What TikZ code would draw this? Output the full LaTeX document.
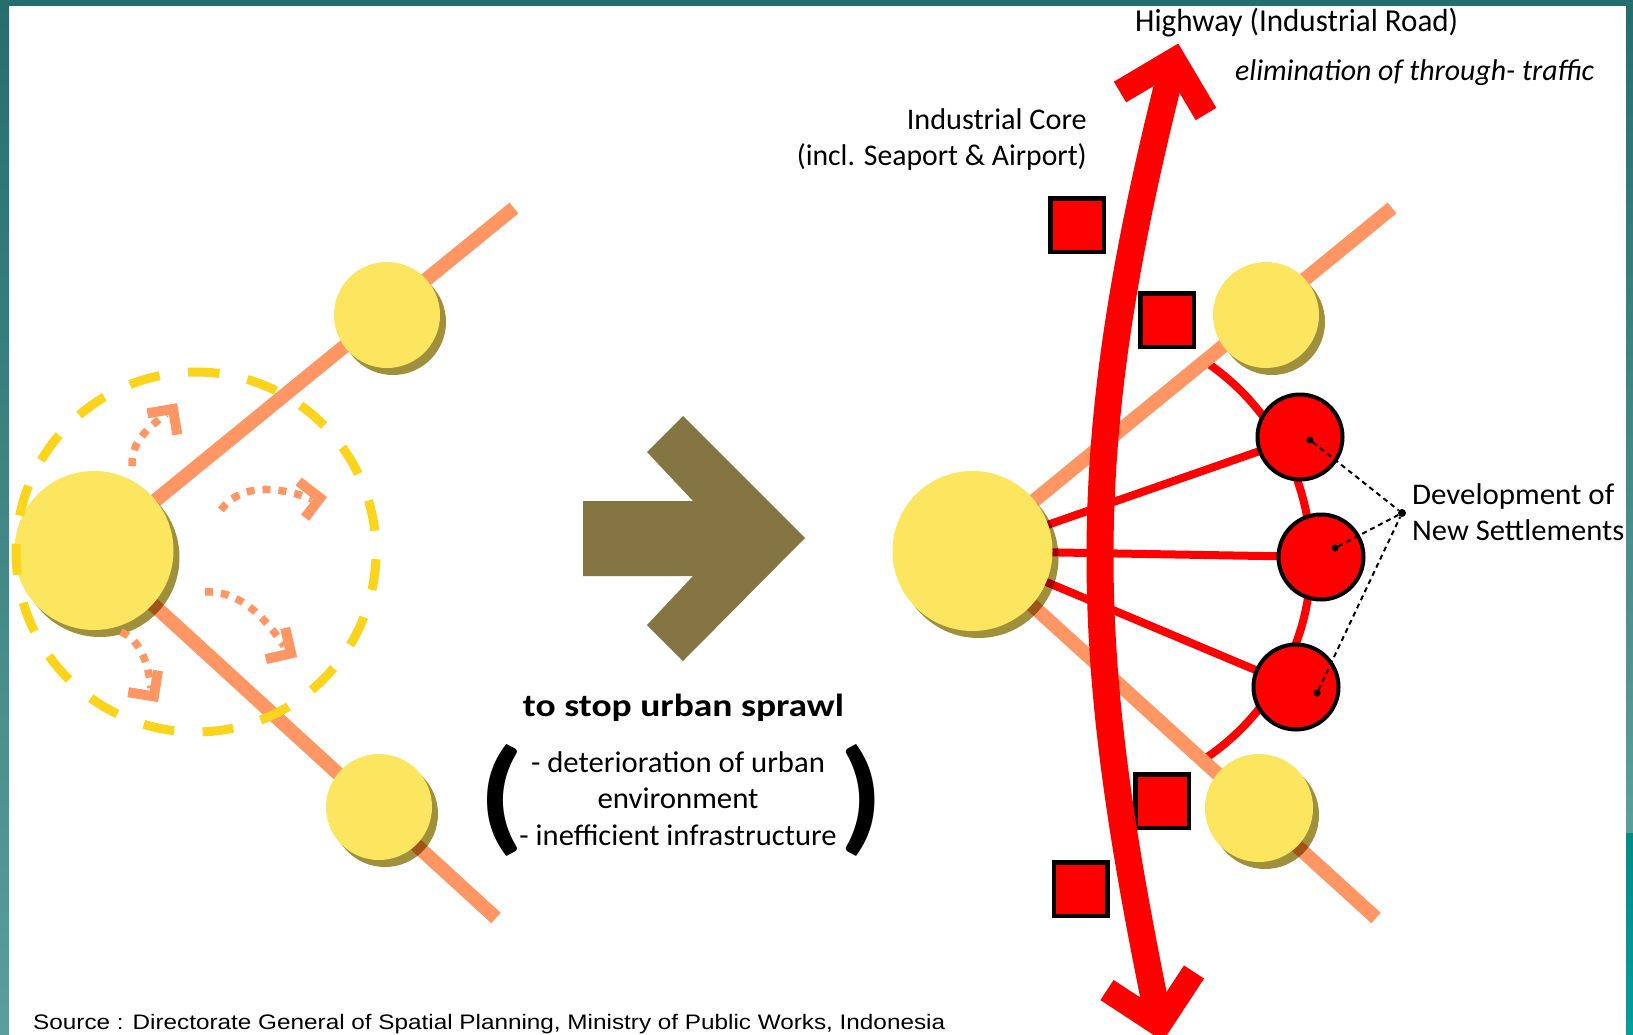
\documentclass[tikz,border=0pt]{standalone}
\usepackage{fontspec}
\setmainfont{Carlito}
\newfontfamily\sourcefont{Liberation Sans}
\usepackage{graphicx}
\usetikzlibrary{calc}

\definecolor{roadorange}{HTML}{FF9664}
\definecolor{cityyellow}{HTML}{FCE55F}
\definecolor{cityshade}{HTML}{A0903C}
\definecolor{ringgold}{HTML}{FCD41C}
\definecolor{turnolive}{HTML}{857543}
\definecolor{tealtop}{HTML}{246F6E}
\definecolor{tealmid}{HTML}{5B9E9B}
\definecolor{tealvivid}{HTML}{008B87}
\definecolor{tealvividb}{HTML}{00A09B}

\pgfdeclarelayer{roads}
\pgfdeclarelayer{shade}
\pgfdeclarelayer{top}
\pgfsetlayers{roads,shade,main,top}

% set text to a given width (in px) while keeping its height
\newcommand\fitw[2]{\resizebox{#1pt}{\height}{#2}}

\begin{document}
\begin{tikzpicture}[x=1pt,y=-1pt,
  road/.style={roadorange,line width=14pt},
  link/.style={red,line width=8pt},
  city/.style={circle,fill=cityyellow,inner sep=0pt,minimum size=#1},
  settle/.style={circle,draw=black,line width=4pt,fill=red,inner sep=0pt,minimum size=85pt},
  core/.style={rectangle,draw=black,line width=4.5pt,fill=red,inner sep=0pt,minimum size=53.5pt},
  sprawl/.style={roadorange,line width=7.5pt,dash pattern=on 8pt off 8pt},
  sprawlhead/.style={roadorange,line width=10pt},
  ring/.style={ringgold,line width=9pt,dash pattern=on 31pt off 28.5pt},
  hwy/.style={red,line width=27pt},
  hwyhead/.style={red,line width=24pt},
  pin/.style={circle,fill=black,inner sep=0pt,minimum size=7pt},
  leader/.style={black,line width=2pt,dash pattern=on 5pt off 4pt},
  lab/.style={inner sep=0pt,font=\fontsize{30}{36}\selectfont},
]
\useasboundingbox (0,0) rectangle (1633,1034);
\begin{pgfonlayer}{roads}
  \fill[white] (0,0) rectangle (1633,1034);
\end{pgfonlayer}

% ---------- cities ----------
\node[city=159pt] (cityL) at (94,550.5) {};
\node[city=106pt] (cityLN) at (387,315) {};
\node[city=106pt] (cityLS) at (379,807) {};
\node[city=160pt] (cityR) at (972.5,551) {};
\node[city=106pt] (cityRN) at (1266,315) {};
\node[city=108pt] (cityRS) at (1259,808) {};

% road ends
\coordinate (endLN) at (514,208);
\coordinate (endLS) at (496,918);
\coordinate (endRN) at (1392,208);
\coordinate (endRS) at (1376,918);
\coordinate (arcHub) at (1072,560);

% ---------- new settlements ----------
\node[settle] (nsA) at (1300,437) {};
\node[settle] (nsB) at (1321,557) {};
\node[settle] (nsC) at (1296,687) {};

% ---------- industrial core ----------
\node[core] (coreA) at (1077,225) {};
\node[core] (coreB) at (1167,320) {};
\node[core] (coreC) at (1162,801) {};
\node[core] (coreD) at (1080.5,889) {};

\begin{pgfonlayer}{roads}
  \draw[link] (cityR.center) -- (nsA.center);
  \draw[link] (cityR.center) -- (nsB.center);
  \draw[link] (cityR.center) -- (nsC.center);
  \draw[link] (arcHub) ++(-56:239) arc[start angle=-56,end angle=57.5,radius=239];
  \draw[road] (cityL.center) -- (endLN);
  \draw[road] (cityL.center) -- (endLS);
  \draw[road] (cityR.center) -- (endRN);
  \draw[road] (cityR.center) -- (endRS);
\end{pgfonlayer}

\begin{pgfonlayer}{shade}
  \fill[cityshade,blend mode=multiply] ($(cityL)+(6,7)$) circle[radius=79.5];
  \fill[cityshade,blend mode=multiply] ($(cityLN)+(6,7)$) circle[radius=53];
  \fill[cityshade,blend mode=multiply] ($(cityLS)+(6,7)$) circle[radius=53];
  \fill[cityshade,blend mode=multiply] ($(cityR)+(6,7)$) circle[radius=80];
  \fill[cityshade,blend mode=multiply] ($(cityRN)+(6,7)$) circle[radius=53];
  \fill[cityshade,blend mode=multiply] ($(cityRS)+(6,7)$) circle[radius=54];
\end{pgfonlayer}

% ---------- sprawl arrows ----------
\coordinate (spA0) at (132,466);  \coordinate (spA1) at (166,414);  \coordinate (spAv) at (173,409);
\draw[sprawl] (spA0) .. controls (131,440) and (150,427) .. (spA1);
\draw[sprawlhead] (177.3,434.6) -- (spAv) -- (147.4,413.3);

\coordinate (spB0) at (221,510);  \coordinate (spB1) at (312,499);  \coordinate (spBv) at (320,498);
\draw[sprawl] (spB0) .. controls (238,486) and (272,484) .. (spB1);
\draw[sprawlhead] (305.1,517.7) -- (spBv) -- (298.7,481.5);

\coordinate (spC0) at (205,592);  \coordinate (spC1) at (284,646);  \coordinate (spCv) at (291.1,653.3);
\draw[sprawl] (spC0) .. controls (235,590) and (262,612) .. (spC1);
\draw[sprawlhead] (265.8,659.1) -- (spCv) -- (285.2,628);

\coordinate (spD0) at (121,632);  \coordinate (spD1) at (151,688);  \coordinate (spDv) at (153.9,696.3);
\draw[sprawl] (spD0) .. controls (140,640) and (148,662) .. (spD1);
\draw[sprawlhead] (128.2,692.2) -- (spDv) -- (158,670.6);

% ---------- transition arrow ----------
\fill[turnolive] (583,501) -- (693,501) -- (647,452) -- (683,416) -- (805,538)
  -- (683,661) -- (647,625) -- (693,576) -- (583,576) -- cycle;

% ---------- leaders to the settlements label ----------
\node[pin] (pinA) at (1310,440) {};
\node[pin] (pinB) at (1335,548) {};
\node[pin] (pinC) at (1317,693) {};
\node[pin,minimum size=8pt] (hub) at (1402,513) {};
\draw[leader] (pinA) -- (hub);
\draw[leader] (pinB) -- (hub);
\draw[leader] (pinC) -- (hub);

% ---------- labels ----------
\node[lab,anchor=base west,font=\fontsize{32}{38}\selectfont] (hwyLabel) at (1135,31) {\fitw{323}{Highway (Industrial Road)}};
\node[lab,anchor=base west,font=\fontsize{30}{36}\selectfont\itshape] (through) at (1235,80) {\fitw{359}{elimination of through- traffic}};
\node[lab,anchor=base east] (coreLabA) at (1087,129) {\fitw{180}{Industrial Core}};
\node[lab,anchor=base east] (coreLabB) at (1087,165) {\fitw{290}{(incl. Seaport \& Airport)}};
\node[lab,anchor=base west] (devA) at (1412,504) {\fitw{202}{Development of}};
\node[lab,anchor=base west] (devB) at (1412,540) {\fitw{212}{New Settlements}};
\node[lab,anchor=base,font=\fontsize{32}{38}\selectfont\bfseries] (goal) at (683.5,716) {\fitw{321}{to stop urban sprawl}};
\node[lab,anchor=base] (why1) at (678,772) {\fitw{294}{- deterioration of urban}};
\node[lab,anchor=base] (why2) at (678,808.5) {\fitw{161}{environment}};
\node[lab,anchor=base] (why3) at (678,845) {\fitw{317}{- inefficient infrastructure}};
\node[inner sep=0pt] (lpar) at (501.5,800.5) {\resizebox*{46pt}{112pt}{\bfseries (}};
\node[inner sep=0pt] (rpar) at (862,800.5) {\resizebox*{44pt}{112pt}{\bfseries )}};
\node[inner sep=0pt,anchor=base west,font=\sourcefont\fontsize{21}{25}\selectfont] (source) at (33,1029)
  {\fitw{912}{Source : Directorate General of Spatial Planning, Ministry of Public Works, Indonesia}};

\begin{pgfonlayer}{top}
  % dashed ring of the sprawling city
  \coordinate (ringC) at (196,552);
  \draw[ring] (ringC) ++(-92.4:180) arc[start angle=-92.4,delta angle=360,radius=180];
  % highway with both arrow heads
  \coordinate (hwS) at (1159.5,1024.5);
  \coordinate (hwN) at (1174,60);
  \draw[hwy] (hwS) .. controls (1082.7,653.2) and (1072.8,454.8) .. (hwN);
  \draw[hwyhead] (1120,92) -- (hwN) -- (1206,114);
  \draw[hwyhead] (1107,990) -- (hwS) -- (1194,972);
  % frame
  \shade[top color=tealtop,bottom color=tealmid] (0,0) rectangle (9,1034);
  \shade[top color=tealtop,bottom color=tealmid] (1626,0) rectangle (1633,833);
  \shade[top color=tealvivid,bottom color=tealvividb] (1626,833) rectangle (1633,1034);
  \fill[tealtop] (0,0) rectangle (1633,6);
\end{pgfonlayer}
\end{tikzpicture}
\end{document}
